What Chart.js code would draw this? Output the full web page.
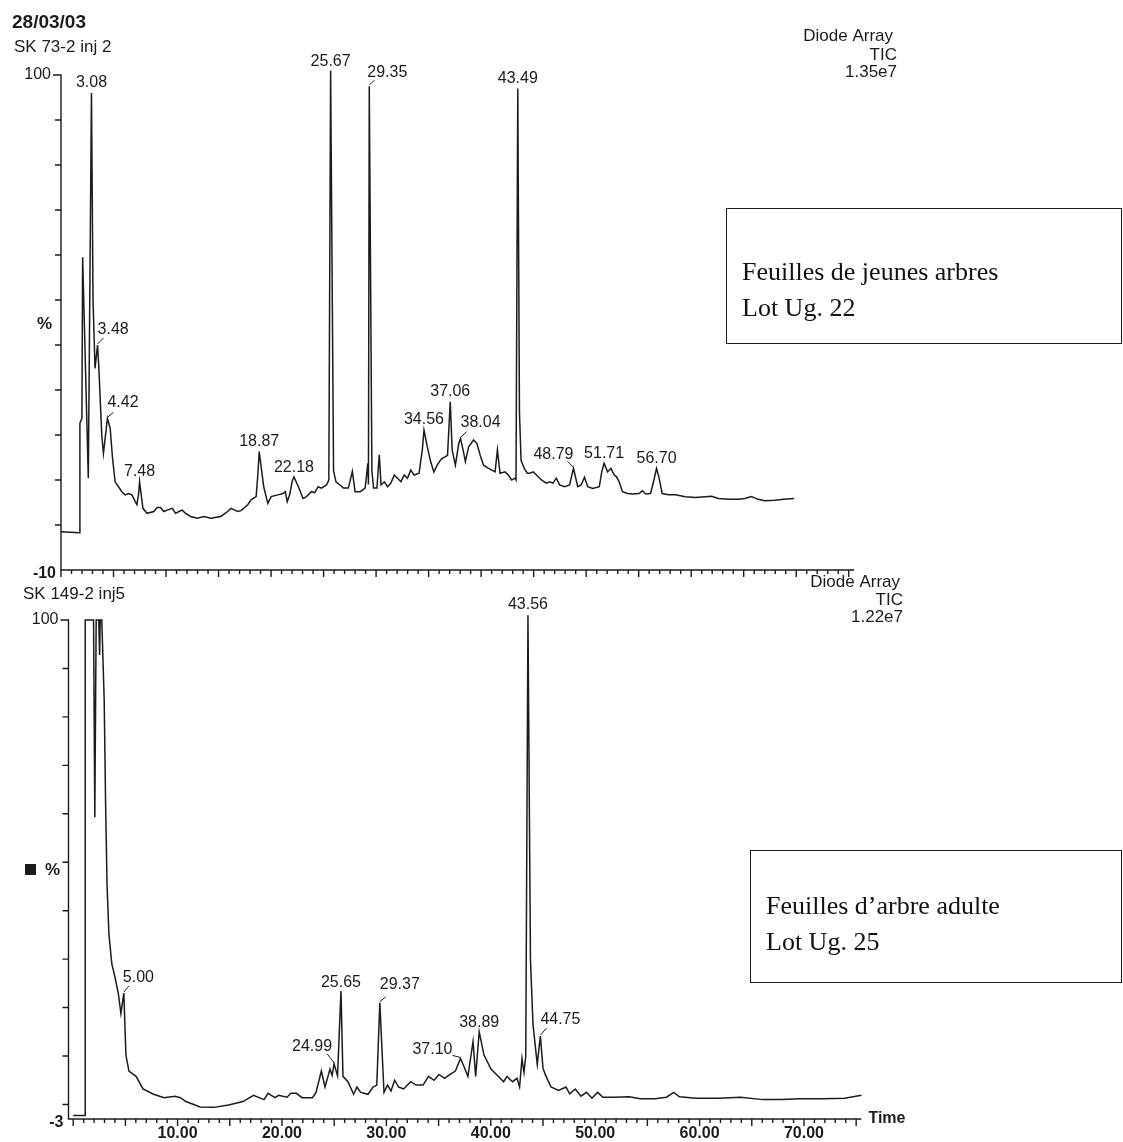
<!DOCTYPE html>
<html>
<head>
<meta charset="utf-8">
<script src="https://cdn.jsdelivr.net/npm/chart.js@4.4.0/dist/chart.umd.min.js"></script>
<style>
    body { margin: 0; background: #fff; }
    #page { position: relative; width: 1123px; height: 1142px; overflow: hidden; background: #fff; }
    canvas { position: absolute; left: 0; }
    .box {
        position: absolute; box-sizing: border-box; border: 1.5px solid #1b1b1b;
        font-family: "Liberation Serif", "Times New Roman", serif; font-size: 26px;
        line-height: 36px; color: #111; padding-left: 15px; white-space: nowrap;
    }
</style>
</head>
<body>
<div id="page">
    <canvas id="topChart" width="1123" height="600" style="top:0"></canvas>
    <canvas id="bottomChart" width="1123" height="582" style="top:560px"></canvas>
    <div class="box" style="left:726px; top:208px; width:396px; height:136px; padding-top:45px;">Feuilles de jeunes arbres<br>Lot Ug. 22</div>
    <div class="box" style="left:750px; top:850px; width:372px; height:133px; padding-top:37px;">Feuilles d’arbre adulte<br>Lot Ug. 25</div>
</div>
<script>
// top trace : SK 73-2 inj 2 (time in min, intensity in %)
const topTime = [0, 1.74, 1.80, 1.99, 2.06, 2.60, 2.90, 3.05, 3.24, 3.48, 3.60, 3.75, 3.88, 4.04, 4.42, 4.68, 4.90,
    5.15, 5.47, 5.79, 6.11, 6.43, 6.75, 7.07, 7.23, 7.39, 7.48, 7.80, 8.19, 8.83, 9.15, 9.47, 9.79, 10.11, 10.59,
    10.91, 11.23, 11.54, 11.86, 12.34, 12.98, 13.62, 14.26, 15.22, 15.86, 16.18, 16.82, 17.14, 17.78, 18.10, 18.58,
    18.75, 18.87, 19.30, 19.69, 20.01, 20.65, 21.13, 21.35, 21.54, 21.77, 22.00, 22.18, 22.60, 23.05, 23.37, 23.85,
    24.16, 24.48, 24.80, 25.28, 25.50, 25.67, 25.95, 26.18, 26.56, 26.88, 27.36, 27.74, 28.00, 28.48, 28.96, 29.21,
    29.27, 29.35, 29.60, 29.76, 30.08, 30.30, 30.47, 30.78, 31.10, 31.41, 31.73, 32.04, 32.36, 32.67, 32.99, 33.30,
    33.62, 34.09, 34.40, 34.56, 34.87, 35.19, 35.50, 35.82, 36.13, 36.29, 36.61, 36.80, 37.06, 37.24, 37.55, 37.87,
    38.04, 38.28, 38.50, 38.81, 39.28, 39.60, 39.91, 40.23, 40.70, 41.02, 41.33, 41.55, 41.80, 42.28, 42.59, 42.91,
    43.22, 43.32, 43.49, 43.65, 43.80, 44.10, 44.40, 44.64, 44.95, 45.27, 45.74, 46.21, 46.53, 46.84, 47.16, 47.47,
    47.95, 48.42, 48.79, 49.05, 49.20, 49.52, 49.84, 50.15, 50.62, 51.25, 51.50, 51.71, 52.04, 52.36, 52.67, 52.89,
    53.14, 53.46, 53.93, 54.40, 55.03, 55.35, 55.66, 56.13, 56.45, 56.70, 56.92, 57.24, 57.87, 58.50, 59.44, 60.39,
    61.33, 61.96, 62.59, 63.54, 64.48, 65.11, 65.74, 66.37, 67.00, 67.95, 68.80, 69.80];
const topSignal = [-1.5, -1.7, 22.6, 23.7, 59.5, 10.4, 96.0, 50.0, 34.8, 40.0, 35.2, 27.0, 20.0, 15.9, 23.7, 21.5, 15.0,
    9.6, 8.5, 7.4, 6.7, 7.0, 6.7, 5.2, 4.5, 7.0, 9.6, 3.7, 2.6, 3.0, 3.9, 3.9, 3.0, 3.3, 3.7,
    2.6, 3.0, 3.3, 2.6, 1.9, 1.5, 1.9, 1.5, 1.9, 3.0, 3.7, 3.0, 3.2, 4.5, 5.6, 6.3,
    11.5, 16.3, 8.5, 4.8, 6.3, 6.7, 7.0, 7.4, 5.2, 6.7, 9.6, 10.7, 8.5, 5.9, 6.3, 7.4,
    7.2, 8.5, 8.2, 8.9, 10.0, 101.0, 12.0, 9.6, 8.9, 8.2, 8.2, 11.9, 7.4, 7.4, 8.2, 13.7,
    9.0, 97.5, 12.0, 8.2, 8.2, 15.6, 8.9, 9.6, 8.5, 9.3, 11.1, 10.4, 9.6, 11.1, 10.4, 12.2,
    11.1, 11.5, 16.7, 21.1, 17.4, 14.1, 11.8, 13.3, 14.4, 14.8, 15.2, 15.5, 27.4, 16.7, 13.3, 18.1,
    19.2, 16.7, 14.1, 17.4, 18.9, 18.1, 15.5, 13.3, 12.6, 12.2, 11.8, 16.7, 11.5, 11.8, 11.1, 10.0,
    10.4, 10.0, 97.0, 25.0, 14.4, 12.6, 11.5, 11.5, 11.8, 11.1, 10.0, 9.3, 9.6, 9.3, 10.4, 8.9,
    8.5, 8.9, 12.6, 10.0, 8.5, 8.9, 10.6, 8.5, 8.1, 8.5, 12.0, 13.7, 11.8, 12.6, 11.1, 10.7,
    9.6, 7.4, 7.0, 6.9, 7.0, 7.6, 6.9, 7.0, 10.0, 12.6, 10.7, 7.0, 6.7, 6.7, 6.3, 6.1,
    6.3, 6.4, 5.9, 5.7, 5.7, 5.9, 6.3, 5.7, 5.4, 5.5, 5.7, 5.9];
const topPeaks = ['3.08', '3.48', '4.42', '7.48', '18.87', '22.18', '25.67', '29.35', '34.56', '37.06', '38.04',
    '43.49', '48.79', '51.71', '56.70'];

// bottom trace : SK 149-2 inj5
const bottomTime = [0, 1.14, 1.15, 1.95, 2.07, 2.20, 2.45, 2.53, 2.59, 2.74, 2.97, 3.10, 3.24, 3.42, 3.70, 4.02, 4.33,
    4.57, 4.85, 5.05, 5.34, 6.02, 6.69, 7.70, 8.70, 9.75, 10.27, 10.80, 12.15, 13.49, 14.89, 16.26, 17.28, 18.28,
    18.66, 19.33, 19.67, 20.48, 20.86, 21.38, 21.92, 22.92, 23.26, 23.77, 24.12, 24.60, 24.80, 24.99, 25.32, 25.65,
    25.84, 26.32, 26.86, 27.18, 27.54, 28.24, 28.72, 29.08, 29.37, 29.77, 30.11, 30.44, 30.79, 31.17, 31.65, 32.33,
    32.84, 33.51, 34.04, 34.56, 35.04, 35.57, 36.09, 36.61, 37.10, 37.46, 37.81, 38.30, 38.55, 38.89, 39.35, 40.02,
    40.54, 41.23, 41.55, 42.08, 42.51, 42.76, 42.99, 43.18, 43.35, 43.56, 43.80, 44.04, 44.45, 44.75, 45.00, 45.25,
    45.77, 46.49, 47.20, 47.56, 48.09, 48.64, 49.17, 49.69, 50.23, 50.75, 51.83, 53.24, 54.33, 55.73, 56.82, 57.53,
    58.06, 59.66, 61.80, 63.94, 66.07, 67.85, 69.64, 71.77, 73.91, 75.50];
const bottomSignal = [-2.3, -2.3, 100, 100, 59.3, 100, 100, 92.8, 100, 100, 83.4, 62.7, 45.5, 35.2, 29.0, 26.1, 22.8,
    18.8, 23.0, 10.2, 6.9, 5.8, 3.2, 2.1, 1.4, 1.7, 1.4, 0.6, -0.5, -0.6, -0.1, 0.6, 1.9, 1.0,
    2.3, 1.4, 1.9, 1.5, 2.3, 2.3, 1.4, 1.4, 2.5, 6.9, 3.6, 7.3, 6.0, 8.4, 5.9, 23.4,
    5.8, 4.7, 2.1, 3.6, 2.5, 2.1, 3.6, 4.0, 21.0, 2.5, 4.0, 2.8, 5.0, 3.6, 3.2, 4.7,
    4.0, 4.0, 5.8, 5.0, 6.2, 5.4, 6.2, 6.9, 9.5, 7.7, 5.8, 13.0, 5.8, 15.0, 10.2, 7.3,
    6.2, 4.7, 5.8, 4.7, 5.4, 3.6, 9.5, 6.6, 10.0, 101.0, 30.0, 16.6, 8.3, 14.1, 7.5, 6.0,
    3.6, 2.9, 3.6, 2.2, 3.2, 1.7, 2.5, 1.3, 2.5, 1.5, 1.5, 1.6, 1.2, 1.2, 1.5, 2.5,
    1.6, 1.3, 1.3, 1.5, 1.0, 1.0, 1.2, 1.2, 1.3, 1.9];
const bottomPeaks = ['5.00', '24.99', '25.65', '29.37', '37.10', '38.89', '43.56', '44.75'];

const timeLabels = [10, 20, 30, 40, 50, 60, 70];

const ink = '#1b1b1b';
const sans = '"Liberation Sans", Arial, Helvetica, sans-serif';

// where each peak label sits relative to its apex (pixels), and its leader line
const labelPlace = {
    '3.08': { align: 'center', dx: 0, dy: -10 },
    '3.48': { align: 'left', dx: 0, dy: -15, lx: 6, ly: -7 },
    '4.42': { align: 'left', dx: 0, dy: -16, lx: 6, ly: -6 },
    '7.48': { align: 'center', dx: 0, dy: -10 },
    '18.87': { align: 'center', dx: 0, dy: -10 },
    '22.18': { align: 'center', dx: 0, dy: -9 },
    '25.67': { align: 'center', dx: 0, dy: -9 },
    '29.35': { align: 'left', dx: -2, dy: -14, lx: 5, ly: -6 },
    '34.56': { align: 'center', dx: 0, dy: -10 },
    '37.06': { align: 'center', dx: 0, dy: -10 },
    '38.04': { align: 'left', dx: 0, dy: -16, lx: 6, ly: -7 },
    '43.49': { align: 'center', dx: 0, dy: -10 },
    '48.79': { align: 'right', dx: 0, dy: -14, lx: -6, ly: -7 },
    '51.71': { align: 'center', dx: 0, dy: -10 },
    '56.70': { align: 'center', dx: 0, dy: -10 },
    '5.00': { align: 'left', dx: -1, dy: -15, lx: 5, ly: -7 },
    '24.99': { align: 'right', dx: -2, dy: -17, lx: -7, ly: -10 },
    '25.65': { align: 'center', dx: 0, dy: -9 },
    '29.37': { align: 'left', dx: 0, dy: -18, lx: 6, ly: -6 },
    '37.10': { align: 'right', dx: -8, dy: -9, lx: -8, ly: -3 },
    '38.89': { align: 'center', dx: 0, dy: -9 },
    '43.56': { align: 'center', dx: 0, dy: -11 },
    '44.75': { align: 'left', dx: 0, dy: -17, lx: 6, ly: -8 }
};

function findApex(times, values, t) {
    let best = -1;
    for (let i = 0; i < times.length; i++) {
        if (Math.abs(times[i] - t) <= 0.3 && (best < 0 || values[i] > values[best])) best = i;
    }
    return best;
}

function text(ctx, str, x, y, font, align) {
    ctx.font = font;
    ctx.textAlign = align || 'left';
    ctx.textBaseline = 'middle';
    ctx.fillText(str, x, y);
}

const panelPlugin = {
    id: 'panel',
    afterDatasetsDraw(chart, args, cfg) {
        const ctx = chart.ctx;
        const xs = chart.scales.x, ys = chart.scales.y;
        const a = chart.chartArea;
        const top = ys.getPixelForValue(100);
        ctx.save();
        ctx.strokeStyle = ink;
        ctx.fillStyle = ink;
        ctx.lineWidth = 1.4;

        // axes
        ctx.beginPath();
        ctx.moveTo(a.left - 8, top);
        ctx.lineTo(a.left, top);
        ctx.lineTo(a.left, a.bottom);
        ctx.lineTo(a.right, a.bottom);
        ctx.stroke();

        ctx.beginPath();
        for (let v = 0; v < 100; v += 10) {
            const py = ys.getPixelForValue(v);
            ctx.moveTo(a.left - 6, py);
            ctx.lineTo(a.left, py);
        }
        for (let m = Math.ceil(xs.min); m <= Math.floor(xs.max); m++) {
            const px = xs.getPixelForValue(m);
            ctx.moveTo(px, a.bottom);
            ctx.lineTo(px, a.bottom + (m % 5 === 0 ? 7 : 4));
        }
        ctx.stroke();

        // peak labels
        ctx.lineWidth = 1;
        cfg.peaks.forEach(lbl => {
            const i = findApex(cfg.times, cfg.values, parseFloat(lbl));
            if (i < 0) return;
            const px = xs.getPixelForValue(cfg.times[i]);
            const py = ys.getPixelForValue(cfg.values[i]);
            const p = labelPlace[lbl];
            if (p.lx !== undefined) {
                ctx.beginPath();
                ctx.moveTo(px, py - 1);
                ctx.lineTo(px + p.lx, py + p.ly);
                ctx.stroke();
            }
            text(ctx, lbl, px + p.dx, py + p.dy, '16px ' + sans, p.align);
        });

        // axis numbers
        text(ctx, '100', a.left - 10, top, '16px ' + sans, 'right');
        text(ctx, cfg.minLabel, a.left - 5, a.bottom + 4, 'bold 16px ' + sans, 'right');
        if (cfg.showTime) {
            timeLabels.forEach(t => {
                text(ctx, t.toFixed(2), xs.getPixelForValue(t), a.bottom + 15, 'bold 16px ' + sans, 'center');
            });
            text(ctx, 'Time', a.right + 7, a.bottom, 'bold 16px ' + sans, 'left');
        }

        // header texts
        cfg.texts.forEach(t => text(ctx, t.s, t.x, t.y, t.font, t.align));
        if (cfg.square) ctx.fillRect(cfg.square[0], cfg.square[1], 11, 11);
        ctx.restore();
    }
};

function chromatogram(id, times, values, panel) {
    return new Chart(document.getElementById(id), {
        type: 'line',
        data: {
            datasets: [{
                data: times.map((t, i) => ({ x: t, y: values[i] })),
                borderColor: ink,
                borderWidth: 1.5,
                pointRadius: 0,
                tension: 0,
                fill: false,
                clip: false
            }]
        },
        options: {
            responsive: false,
            animation: false,
            events: [],
            layout: { padding: panel.padding },
            scales: {
                x: { type: 'linear', min: panel.xmin, max: panel.xmax, display: false },
                y: { type: 'linear', min: panel.ymin, max: 100, display: false }
            },
            plugins: {
                legend: { display: false },
                tooltip: { enabled: false },
                panel: Object.assign({ times: times, values: values }, panel)
            }
        },
        plugins: [panelPlugin]
    });
}

chromatogram('topChart', topTime, topSignal, {
    padding: { left: 61, top: 75, right: 269, bottom: 30 },
    xmin: 0, xmax: 75.5, ymin: -10,
    peaks: topPeaks, minLabel: '-10', showTime: false,
    texts: [
        { s: '28/03/03', x: 12, y: 23, font: 'bold 19px ' + sans, align: 'left' },
        { s: 'SK 73-2 inj 2', x: 14, y: 47, font: '17px ' + sans, align: 'left' },
        { s: 'Diode Array', x: 893, y: 36, font: '17px ' + sans, align: 'right' },
        { s: 'TIC', x: 897, y: 55, font: '17px ' + sans, align: 'right' },
        { s: '1.35e7', x: 897, y: 72, font: '17px ' + sans, align: 'right' },
        { s: '%', x: 37, y: 324, font: 'bold 17px ' + sans, align: 'left' }
    ]
});

chromatogram('bottomChart', bottomTime, bottomSignal, {
    padding: { left: 68.5, top: 60, right: 261.6, bottom: 23 },
    xmin: -0.45, xmax: 75.5, ymin: -3,
    peaks: bottomPeaks, minLabel: '-3', showTime: true,
    texts: [
        { s: 'SK 149-2 inj5', x: 23, y: 34, font: '17px ' + sans, align: 'left' },
        { s: 'Diode Array', x: 900, y: 22, font: '17px ' + sans, align: 'right' },
        { s: 'TIC', x: 903, y: 40, font: '17px ' + sans, align: 'right' },
        { s: '1.22e7', x: 903, y: 57, font: '17px ' + sans, align: 'right' },
        { s: '%', x: 45, y: 310, font: 'bold 17px ' + sans, align: 'left' }
    ],
    square: [25, 304]
});
</script>
</body>
</html>
